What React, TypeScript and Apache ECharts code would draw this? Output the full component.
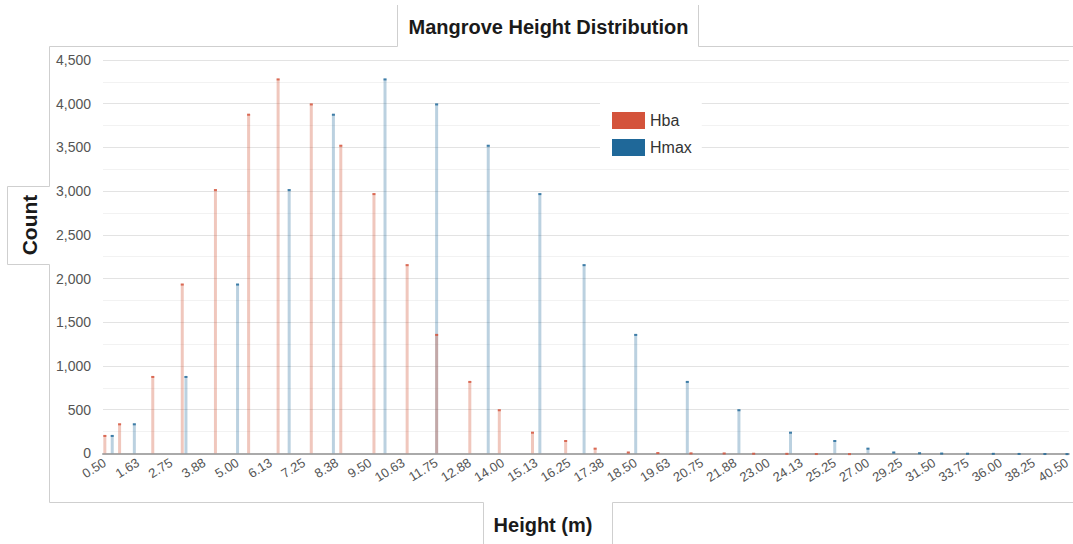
import React, { useEffect, useRef } from "react";
import * as echarts from "echarts";

// Axis category construction (height bins in metres)
const CATEGORY_RANGES = [
  { from: 0.5, to: 25.75, step: 0.125 },
  { from: 26, to: 40.5, step: 0.25 },
];

const hbaHeights = [0.5, 1.0, 2.125, 3.125, 4.25, 5.375, 6.375, 7.5, 8.5, 9.625, 10.75, 11.75, 12.875, 13.875, 15.0, 16.125, 17.125, 18.25, 19.25, 20.375, 21.5, 22.5, 23.625, 24.625, 25.75];
const hbaCounts = [210, 343, 885, 1942, 3023, 3885, 4289, 4003, 3530, 2977, 2164, 1366, 828, 504, 247, 152, 64, 20, 14, 10, 9, 6, 5, 3, 2];

const hmaxHeights = [0.75, 1.5, 3.25, 5.0, 6.75, 8.25, 10.0, 11.75, 13.5, 15.25, 16.75, 18.5, 20.25, 22.0, 23.75, 25.25, 27.0, 28.75, 30.5, 32.0, 33.75, 35.5, 37.25, 39.0, 40.5];
const hmaxCounts = [210, 343, 885, 1942, 3023, 3885, 4289, 4003, 3530, 2977, 2164, 1366, 828, 504, 247, 152, 64, 20, 12, 8, 6, 5, 4, 3, 2];

const yTicks = { min: 0, max: 4500, interval: 500 };

const TITLE = "Mangrove Height Distribution";
const X_NAME = "Height (m)";
const Y_NAME = "Count";

const FONT = "'Liberation Sans', Arial, sans-serif";
const RED = "#d4533b";
const BLUE = "#1f6899";

function buildCategories(): string[] {
  const out: string[] = [];
  for (const r of CATEGORY_RANGES) {
    const n = Math.round((r.to - r.from) / r.step);
    for (let i = 0; i <= n; i++) out.push((r.from + r.step * i).toFixed(2));
  }
  return out;
}

export default function App() {
  const ref = useRef<HTMLDivElement>(null);
  useEffect(() => {
    if (!ref.current) return;
    const chart = echarts.init(ref.current, null, { renderer: "svg" });
    const categories = buildCategories();
    const hba = hbaHeights.map((h, i) => [h.toFixed(2), hbaCounts[i]]);
    const hmax = hmaxHeights.map((h, i) => [h.toFixed(2), hmaxCounts[i]]);
    const frame = { stroke: "#cfcfcf", lineWidth: 1, fill: "none" };

    chart.setOption({
      animation: false,
      backgroundColor: "#fff",
      grid: { left: 103, right: 1, top: 60, bottom: 90.7, containLabel: false },
      legend: {
        orient: "vertical",
        left: 600,
        top: 98,
        padding: [14, 10, 10, 12],
        backgroundColor: "#fff",
        itemWidth: 33,
        itemHeight: 17,
        itemGap: 10,
        icon: "rect",
        textStyle: { fontFamily: FONT, fontSize: 16, color: "#333" },
        data: [
          { name: "Hba", itemStyle: { color: RED } },
          { name: "Hmax", itemStyle: { color: BLUE } },
        ],
        z: 10,
      },
      xAxis: {
        type: "category",
        data: categories,
        boundaryGap: true,
        axisLine: { show: true, lineStyle: { color: "#aaaaaa", width: 2 } },
        axisTick: { show: false },
        axisLabel: {
          interval: 8,
          rotate: 32,
          margin: 8,
          fontFamily: FONT,
          fontSize: 13,
          color: "#555",
        },
        splitLine: { show: false },
      },
      yAxis: {
        type: "value",
        min: yTicks.min,
        max: yTicks.max,
        interval: yTicks.interval,
        axisLine: { show: false },
        axisTick: { show: false },
        axisLabel: {
          margin: 12,
          fontFamily: FONT,
          fontSize: 14,
          color: "#555",
          formatter: (v: number) => v.toLocaleString("en-US"),
        },
        splitLine: { lineStyle: { color: "#e3e3e3", width: 1 } },
        minorTick: { show: false, splitNumber: 2 },
        minorSplitLine: { show: true, lineStyle: { color: "#f2f2f2", width: 1 } },
      },
      series: [
        {
          name: "Hmax",
          type: "bar",
          data: hmax,
          barWidth: 3,
          barGap: "-100%",
          itemStyle: { color: "rgba(31,104,153,0.3)" },
        },
        {
          name: "Hba",
          type: "bar",
          data: hba,
          barWidth: 3,
          barGap: "-100%",
          itemStyle: { color: "rgba(211,90,63,0.34)" },
        },
        {
          name: "Hmax top",
          type: "scatter",
          data: hmax,
          symbol: "rect",
          symbolSize: [3, 2],
          symbolOffset: [0, 1],
          itemStyle: { color: BLUE },
          z: 3,
        },
        {
          name: "Hba top",
          type: "scatter",
          data: hba,
          symbol: "rect",
          symbolSize: [3, 2],
          symbolOffset: [0, 1],
          itemStyle: { color: RED },
          z: 3,
        },
      ],
      graphic: [
        {
          type: "polyline",
          silent: true,
          shape: {
            points: [
              [397.5, 5],
              [397.5, 46.5],
              [49.5, 46.5],
              [49.5, 186.5],
              [7.5, 186.5],
              [7.5, 264.5],
              [49.5, 264.5],
              [49.5, 502.5],
              [483.5, 502.5],
              [483.5, 544],
            ],
          },
          style: frame,
        },
        {
          type: "polyline",
          silent: true,
          shape: { points: [[612.5, 544], [612.5, 502.5], [1073, 502.5]] },
          style: frame,
        },
        {
          type: "polyline",
          silent: true,
          shape: { points: [[698.5, 5], [698.5, 46.5], [1073, 46.5]] },
          style: frame,
        },
        {
          type: "text",
          x: 548.5,
          y: 27,
          style: {
            text: TITLE,
            font: `bold 20px ${FONT}`,
            fill: "#1a1a1a",
            textAlign: "center",
            textVerticalAlign: "middle",
          },
        },
        {
          type: "text",
          x: 29,
          y: 225,
          rotation: Math.PI / 2,
          style: {
            text: Y_NAME,
            font: `bold 21px ${FONT}`,
            fill: "#1a1a1a",
            textAlign: "center",
            textVerticalAlign: "middle",
          },
        },
        {
          type: "text",
          x: 543,
          y: 525,
          style: {
            text: X_NAME,
            font: `bold 20px ${FONT}`,
            fill: "#1a1a1a",
            textAlign: "center",
            textVerticalAlign: "middle",
          },
        },
      ],
    });
    return () => chart.dispose();
  }, []);
  return (
    <div
      ref={ref}
      style={{ position: "fixed", left: 0, top: 0, width: 1073, height: 544 }}
    />
  );
}
